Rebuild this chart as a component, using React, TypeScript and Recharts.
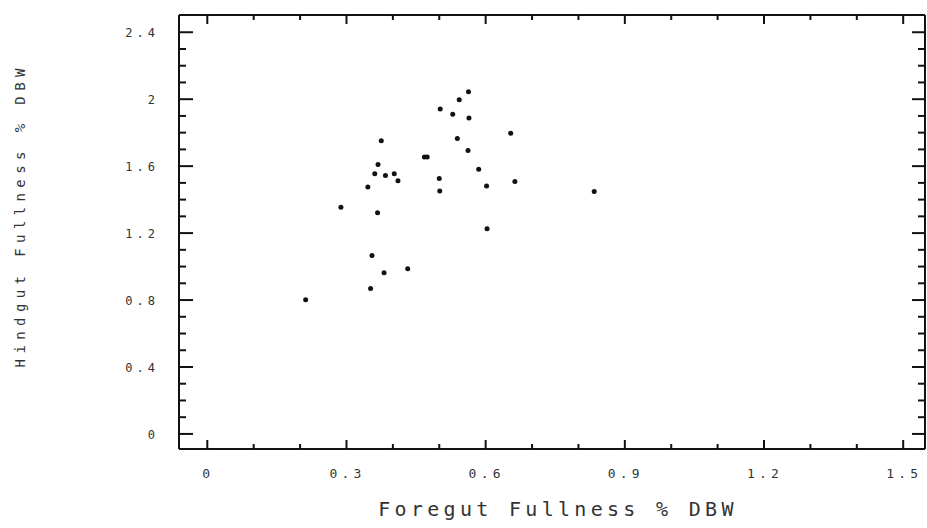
import React from 'react';
import { ScatterChart, Scatter, XAxis, YAxis, Label } from 'recharts';

// foregut vs hindgut fullness, % dry body weight
const foregut = [
  0.288, 0.346, 0.361, 0.368, 0.375, 0.367, 0.384, 0.403, 0.411, 0.468, 0.474,
  0.502, 0.5, 0.501, 0.529, 0.543, 0.563, 0.564, 0.539, 0.562, 0.585, 0.602,
  0.603, 0.654, 0.663, 0.834, 0.355, 0.381, 0.432, 0.352, 0.212,
];
const hindgut = [
  1.355, 1.476, 1.554, 1.61, 1.751, 1.321, 1.544, 1.554, 1.512, 1.654, 1.654,
  1.942, 1.526, 1.452, 1.91, 1.996, 2.044, 1.888, 1.765, 1.693, 1.582, 1.482,
  1.226, 1.797, 1.508, 1.448, 1.066, 0.963, 0.987, 0.869, 0.802,
];

const xTicks = [0, 0.1, 0.2, 0.3, 0.4, 0.5, 0.6, 0.7, 0.8, 0.9, 1.0, 1.1, 1.2, 1.3, 1.4, 1.5];
const yTicks = [
  0, 0.1, 0.2, 0.3, 0.4, 0.5, 0.6, 0.7, 0.8, 0.9, 1.0, 1.1, 1.2,
  1.3, 1.4, 1.5, 1.6, 1.7, 1.8, 1.9, 2.0, 2.1, 2.2, 2.3, 2.4,
];

const data = foregut.map((x, i) => ({ x, y: hindgut[i] }));

const FONT = '"DejaVu Sans Mono", monospace';
const INK = '#111';
const TEXT = '#333';

const isMajorX = (v: number) => Math.round(v * 10) % 3 === 0;
const isMajorY = (v: number) => Math.round(v * 10) % 4 === 0;

function BottomTick(props: any) {
  const { x, y, payload } = props;
  const major = isMajorX(payload.value);
  return (
    <g>
      <line x1={x} x2={x} y1={y} y2={y - (major ? 9 : 5)} stroke={INK} strokeWidth={2} />
      {major && (
        <text x={x} y={y + 29} dx={1} textAnchor="middle" fontFamily={FONT} fontSize={13}
          letterSpacing={4.2} fill={TEXT}>
          {String(payload.value)}
        </text>
      )}
    </g>
  );
}

function TopTick(props: any) {
  const { x, y, payload } = props;
  const major = isMajorX(payload.value);
  return <line x1={x} x2={x} y1={y} y2={y + (major ? 9 : 5)} stroke={INK} strokeWidth={2} />;
}

function LeftTick(props: any) {
  const { x, y, payload } = props;
  const major = isMajorY(payload.value);
  return (
    <g>
      <line x1={x} x2={x + (major ? 14 : 7)} y1={y} y2={y} stroke={INK} strokeWidth={2} />
      {major && (
        <text x={x - 24} y={y + 5} dx={4} textAnchor="end" fontFamily={FONT} fontSize={12}
          letterSpacing={4} fill={TEXT}>
          {String(payload.value)}
        </text>
      )}
    </g>
  );
}

function RightTick(props: any) {
  const { x, y, payload } = props;
  const major = isMajorY(payload.value);
  return <line x1={x} x2={x - (major ? 13 : 7)} y1={y} y2={y} stroke={INK} strokeWidth={2} />;
}

const Dot = (props: any) => <circle cx={props.cx} cy={props.cy} r={2.5} fill={INK} />;

export default function App() {
  const axisLine = { stroke: INK, strokeWidth: 2 };
  return (
    <div style={{ width: 927, height: 528, background: '#fff' }}>
      <style>{'body{margin:0}'}</style>
      <ScatterChart width={927} height={528} margin={{ top: 14, right: 1, bottom: 0, left: 0 }}>
        <XAxis
          xAxisId="b"
          type="number"
          dataKey="x"
          orientation="bottom"
          domain={[-0.061, 1.547]}
          allowDataOverflow
          ticks={xTicks}
          interval={0}
          height={79}
          tickSize={0}
          tickMargin={0}
          tickLine={false}
          axisLine={axisLine}
          tick={<BottomTick />}
        >
          <Label
            content={(p: any) => {
              const vb = p.viewBox;
              return (
                <text x={vb.x + vb.width / 2 + 6} y={vb.y + 67} textAnchor="middle"
                  fontFamily={FONT} fontSize={20} letterSpacing={4.3} fill={TEXT}>
                  Foregut Fullness % DBW
                </text>
              );
            }}
          />
        </XAxis>
        <XAxis
          xAxisId="t"
          type="number"
          dataKey="x"
          orientation="top"
          domain={[-0.061, 1.547]}
          allowDataOverflow
          ticks={xTicks}
          interval={0}
          height={1}
          tickSize={0}
          tickMargin={0}
          tickLine={false}
          axisLine={axisLine}
          tick={<TopTick />}
        />
        <YAxis
          yAxisId="l"
          type="number"
          dataKey="y"
          orientation="left"
          domain={[-0.09, 2.503]}
          allowDataOverflow
          ticks={yTicks}
          interval={0}
          width={179}
          tickSize={0}
          tickMargin={0}
          tickLine={false}
          axisLine={axisLine}
          tick={<LeftTick />}
        >
          <Label
            content={() => (
              <text x={25} y={218} dx={2.7} textAnchor="middle" transform="rotate(-90, 25, 218)"
                fontFamily={FONT} fontSize={14} letterSpacing={5.4} fill={TEXT}>
                Hindgut Fullness % DBW
              </text>
            )}
          />
        </YAxis>
        <YAxis
          yAxisId="r"
          type="number"
          dataKey="y"
          orientation="right"
          domain={[-0.09, 2.503]}
          allowDataOverflow
          ticks={yTicks}
          interval={0}
          width={1}
          tickSize={0}
          tickMargin={0}
          tickLine={false}
          axisLine={axisLine}
          tick={<RightTick />}
        />
        <Scatter data={data} xAxisId="b" yAxisId="l" shape={<Dot />} isAnimationActive={false} />
        <Scatter data={data} xAxisId="t" yAxisId="r" shape={() => <g />} isAnimationActive={false} />
      </ScatterChart>
    </div>
  );
}
